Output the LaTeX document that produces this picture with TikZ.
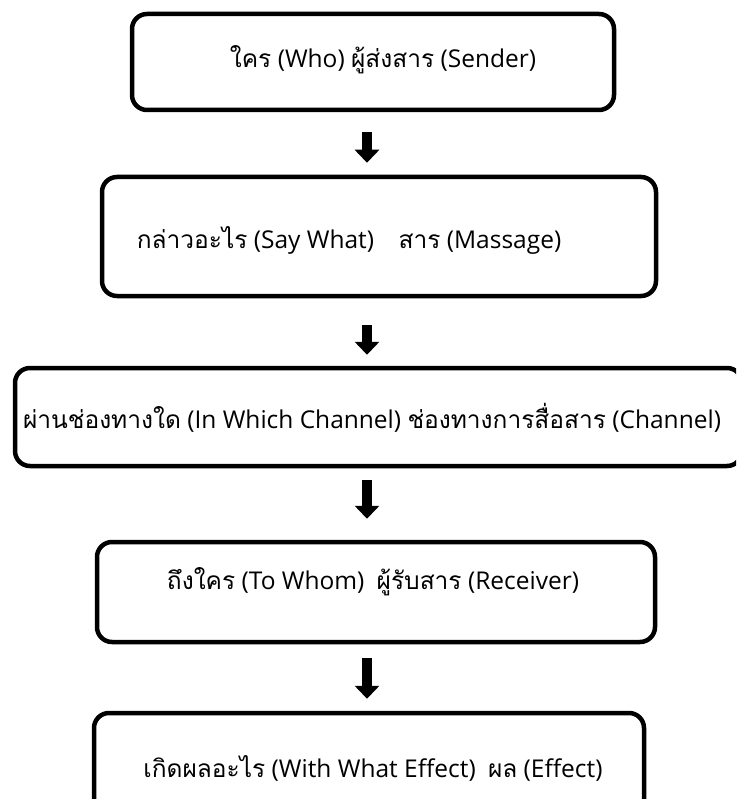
\documentclass[tikz,border=0pt]{standalone}
\usepackage{fontspec}
\setmainfont{Open Sans}
\newfontfamily\thaifont[Script=Thai]{Loma}
\usetikzlibrary{arrows.meta}

\begin{document}
\begin{tikzpicture}[x=1pt,y=-1pt,
  stage/.style={draw,line width=4.5pt,rounded corners=15pt,inner sep=0pt},
  caption/.style={inner sep=0pt,font=\fontsize{24.5}{29}\selectfont},
  flow/.style={line width=9.5pt,-{Triangle[width=24pt,length=13pt]}}
  ]
  \newcommand{\thai}[1]{{\thaifont #1}}
  \useasboundingbox (0,0) rectangle (736,799);
  \clip (0,0) rectangle (736,799);

  \node[stage,minimum width=482pt,minimum height=96pt] (who) at (373,62) {};
  \node[stage,minimum width=554pt,minimum height=119pt] (what) at (379,236.5) {};
  \node[stage,minimum width=727pt,minimum height=98pt] (channel) at (378.5,417) {};
  \node[stage,minimum width=558pt,minimum height=100pt] (whom) at (376,592) {};
  \node[stage,minimum width=550pt,minimum height=110pt] (effect) at (369,768) {};

  \node[caption] (whotext) at (383,60) {\thai{ใคร} (Who) \thai{ผู้ส่งสาร} (Sender)};
  \node[caption] (whattext) at (349,240) {\thai{กล่าวอะไร} (Say What)\quad\thai{สาร} (Massage)};
  \node[caption] (channeltext) at (372,418) {\thai{ผ่านช่องทางใด} (In Which Channel) \thai{ช่องทางการสื่อสาร} (Channel)};
  \node[caption] (whomtext) at (373,582) {\thai{ถึงใคร} (To Whom)\enspace\thai{ผู้รับสาร} (Receiver)};
  \node[caption] (effecttext) at (373,768) {\thai{เกิดผลอะไร} (With What Effect)\enspace\thai{ผล} (Effect)};

  \coordinate (axis) at (367,0);
  \draw[flow] ([yshift=-20pt]who.south -| axis) -- ([yshift=12pt]what.north -| axis);
  \draw[flow] ([yshift=-27pt]what.south -| axis) -- ([yshift=11pt]channel.north -| axis);
  \draw[flow] ([yshift=-12pt]channel.south -| axis) -- ([yshift=21pt]whom.north -| axis);
  \draw[flow] ([yshift=-14pt]whom.south -| axis) -- ([yshift=12pt]effect.north -| axis);
\end{tikzpicture}
\end{document}
